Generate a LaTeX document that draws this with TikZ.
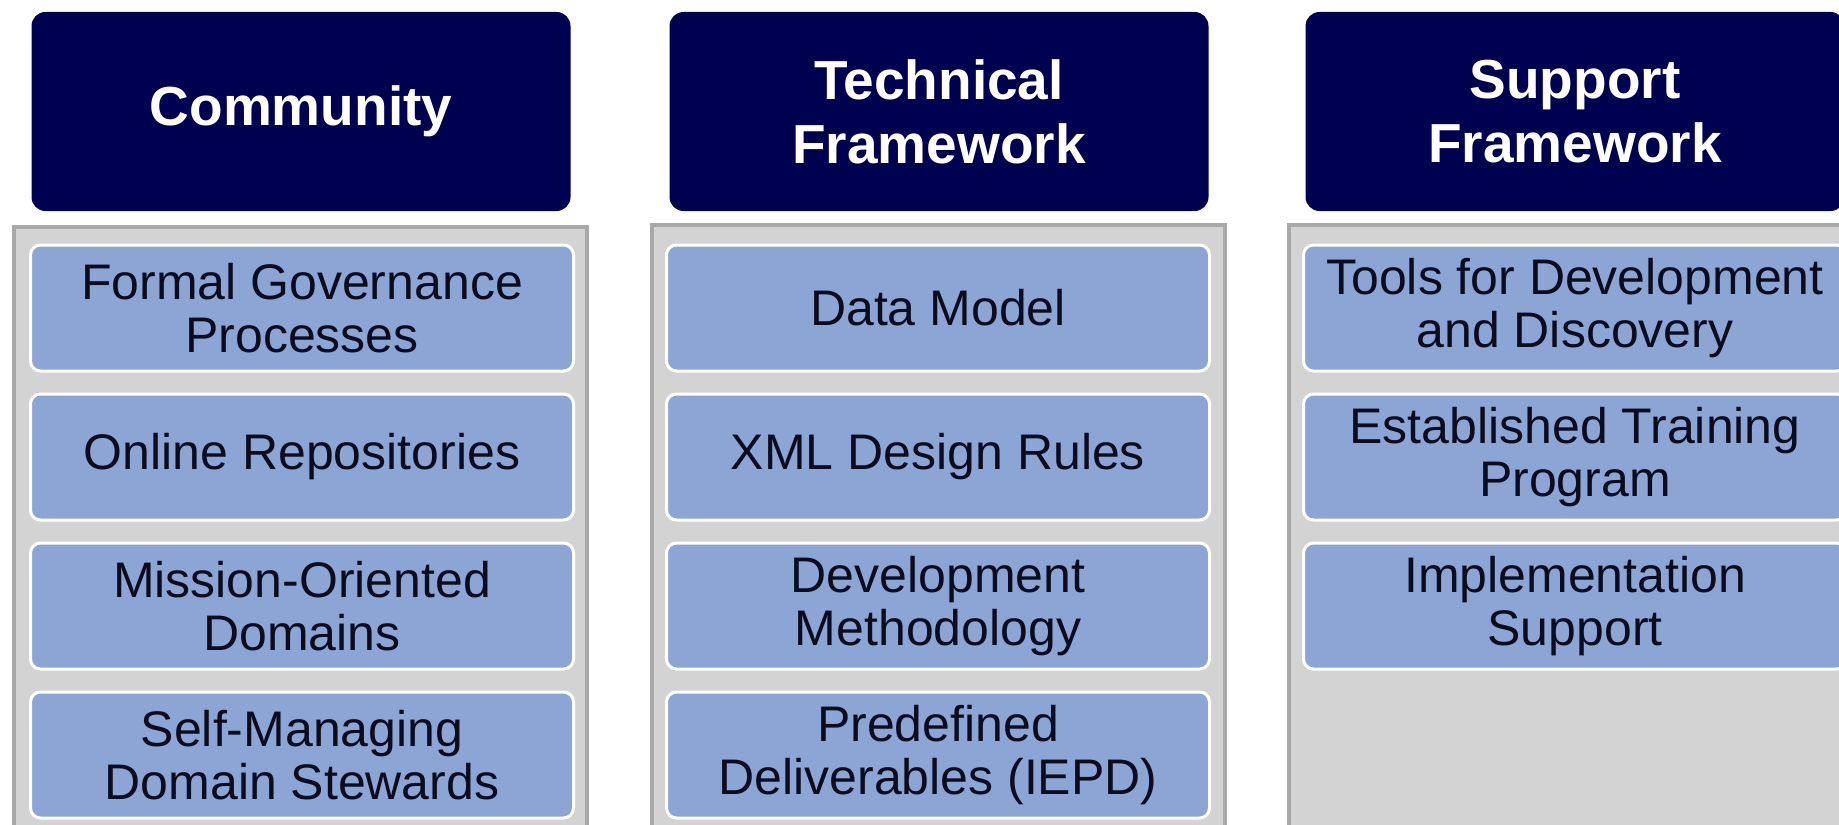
\documentclass[tikz,border=0pt]{standalone}
\usepackage{fontspec}
\setmainfont{Liberation Sans}
\definecolor{headblue}{RGB}{0,0,80}
\definecolor{itemblue}{RGB}{140,165,213}
\definecolor{itemtext}{RGB}{12,12,32}
\definecolor{panelgray}{RGB}{211,211,211}
\definecolor{paneledge}{RGB}{168,168,168}

\begin{document}
\begin{tikzpicture}[x=0.5pt,y=-0.5pt,
	head/.style={rectangle,rounded corners=7pt,fill=headblue,text=white,align=center,
		minimum width=269.5pt,minimum height=99.5pt,font=\fontsize{27.5}{32}\selectfont\bfseries},
	item/.style={rectangle,rounded corners=5pt,draw=white,line width=1.5pt,fill=itemblue,
		text=itemtext,align=center,minimum width=271.5pt,minimum height=63pt,
		font=\fontsize{25}{26.5}\selectfont},
	panel/.style={rectangle,draw=paneledge,line width=2pt,fill=panelgray,anchor=north,
		minimum width=286.5pt,minimum height=320pt}]
	\useasboundingbox (0,0) rectangle (1839,824);

	\node[panel] (pcomm) at (300,225)	{};
	\node[panel] (ptech) at (938,223)	{};
	\node[panel] (psupp) at (1575,223)	{};

	\node[head] (comm) at (301,111.5)	{Community};
	\node[head] (tech) at (939,111.5)	{Technical\\Framework};
	\node[head] (supp) at (1575,111.5)	{Support\\Framework};

	\node[item] (comm1) at (302,308)	{Formal Governance\\Processes};
	\node[item] (comm2) at (302,457)	{Online Repositories};
	\node[item] (comm3) at (302,606)	{Mission-Oriented\\Domains};
	\node[item] (comm4) at (302,755)	{Self-Managing\\Domain Stewards};

	\node[item] (tech1) at (938,308)	{Data Model};
	\node[item] (tech2) at (938,457)	{XML Design Rules};
	\node[item] (tech3) at (938,606)	{Development\\Methodology};
	\node[item] (tech4) at (938,755)	{Predefined\\Deliverables (IEPD)};

	\node[item] (supp1) at (1575,308)	{Tools for Development\\and Discovery};
	\node[item] (supp2) at (1575,457)	{Established Training\\Program};
	\node[item] (supp3) at (1575,606)	{Implementation\\Support};
\end{tikzpicture}
\end{document}
